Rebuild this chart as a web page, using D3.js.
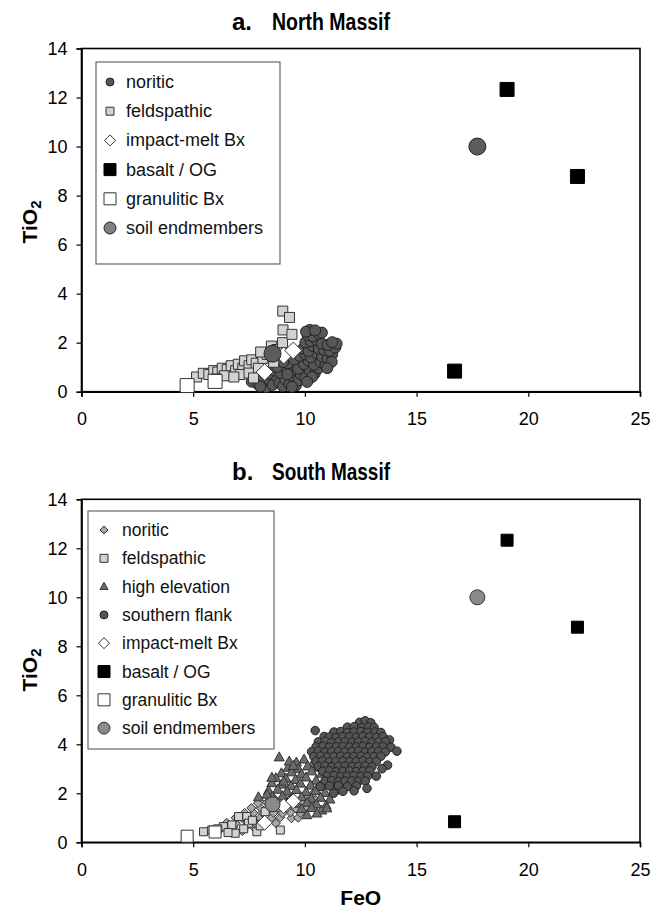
<!DOCTYPE html>
<html><head><meta charset="utf-8">
<script src="https://cdn.jsdelivr.net/npm/d3@7"></script>
<style>
body{margin:0;background:#fff;}
text{font-family:"Liberation Sans",Arial,Helvetica,sans-serif;}
</style></head>
<body><svg id="chart" width="652" height="911"></svg>
<script>
// ---------- DATA (FeO wt%, TiO2 wt%) ----------
const xTicks = [0, 5, 10, 15, 20, 25];
const yTicks = [0, 2, 4, 6, 8, 10, 12, 14];

// shared
const basaltOG = [[19.05,12.33],[22.2,8.78],[16.7,0.84]];
const granuliticBx = [[4.73,0.25],[5.98,0.42]];
const impactMeltBx = [[8.2,0.8],[9.05,1.48],[9.48,1.68]];
const soilEndmembers = [[8.55,1.55],[17.72,10.0]];

// North Massif
const northNoritic = [
 [7.62,0.41],[7.9,0.3],[8.1,0.55],[8.27,0.19],[8.42,0.46],[8.56,0.28],[8.72,0.62],[8.86,0.36],[9.02,0.22],[9.12,0.5],
 [9.31,0.31],[9.46,0.63],[9.6,0.26],[9.72,0.46],[8.36,0.73],[8.62,0.86],[8.9,0.77],[9.16,0.96],[9.36,0.83],[9.55,1.06],
 [9.82,0.71],[10.02,0.57],[10.22,0.86],[10.44,0.74],[10.62,0.96],[9.7,0.94],[9.96,1.12],[10.16,1.26],[10.41,1.1],[10.7,1.21],
 [10.92,1.06],[9.25,1.16],[9.52,1.31],[9.76,1.46],[10.02,1.52],[10.26,1.4],[10.52,1.56],[10.77,1.44],[11.02,1.36],[11.22,1.52],
 [9.92,1.76],[10.16,1.66],[10.36,1.86],[10.62,1.76],[10.86,1.71],[11.12,1.66],[11.36,1.8],[11.42,1.96],[10.02,2.01],[10.26,2.06],
 [10.52,2.11],[10.76,1.96],[11.02,1.91],[11.22,2.02],[10.12,2.31],[10.36,2.26],[10.62,2.36],[10.22,2.52],[10.76,2.41],[10.05,2.45],
 [10.46,2.5],[11.2,1.22],[11.0,0.96],[10.32,0.6],[9.22,0.71],[8.76,1.01],[9.02,1.21],[8.0,0.22],[9.42,0.2],[10.1,0.4]
];
const northFeldspathic = [
 [5.15,0.6],[5.45,0.75],[5.7,0.7],[5.92,0.86],[6.1,0.8],[6.3,0.96],[6.52,0.9],[6.4,0.65],[6.7,1.06],[6.9,0.86],
 [7.02,1.12],[7.22,0.96],[7.3,1.26],[7.5,1.06],[7.62,1.3],[7.82,1.16],[7.1,0.7],[6.82,0.6],[7.5,0.76],[7.92,0.96],
 [8.12,1.36],[8.32,1.52],[8.5,1.86],[8.75,1.72],[9.0,2.0],[9.02,2.52],[9.42,2.34],[9.01,3.29],[9.31,3.03],[8.6,1.2],
 [8.02,1.62],[6.02,0.52],[7.7,0.56]
];

// South Massif
const southNoritic = [
 [6.1,0.45],[6.6,0.44],[7.2,0.46],[6.3,0.6],[6.8,0.61],[7.3,0.58],[7.7,0.62],[6.5,0.8],[6.9,0.78],[7.4,0.82],
 [7.8,0.79],[8.3,0.81],[8.7,0.78],[6.9,1.0],[7.2,0.98],[7.6,1.02],[8.0,1.0],[8.5,0.99],[8.9,1.02],[9.4,0.98],
 [9.7,1.0],[7.3,1.2],[7.7,1.19],[8.1,1.22],[8.6,1.2],[9.0,1.18],[9.35,1.22],[9.8,1.2],[7.6,1.4],[8.0,1.42],
 [8.4,1.38],[8.8,1.41],[9.2,1.4],[9.6,1.38],[10.0,1.42],[7.9,1.6],[8.3,1.62],[8.7,1.58],[9.1,1.6],[9.5,1.62],
 [9.9,1.58],[10.3,1.6],[8.6,1.8],[9.0,1.78],[9.4,1.82],[10.1,1.8],[10.4,1.79],[9.2,2.0],[10.4,2.02]
];
const southFeldspathic = [
 [5.46,0.43],[5.83,0.5],[6.35,0.64],[6.73,0.71],[7.03,1.05],[7.4,1.05],[7.47,0.78],[6.88,0.37],[7.85,0.43],[8.9,0.5],
 [8.0,0.67],[7.26,0.55],[6.56,0.4],[8.22,1.25],[6.1,0.55],[7.65,0.9]
];
const southHighElevation = [
 [8.85,3.47],[9.62,3.26],[9.96,3.38],[10.35,3.2],[9.25,3.05],[9.7,3.0],[10.12,3.1],[10.6,3.05],[11.0,3.15],[8.95,2.82],
 [9.4,2.86],[9.85,2.78],[10.3,2.9],[10.75,2.8],[11.2,2.9],[8.7,2.62],[9.15,2.6],[9.58,2.55],[10.05,2.65],[10.5,2.52],
 [10.95,2.6],[11.4,2.66],[8.52,2.42],[8.95,2.36],[9.38,2.3],[9.8,2.4],[10.25,2.32],[10.7,2.28],[11.15,2.38],[11.6,2.45],
 [8.37,2.11],[8.78,2.15],[9.2,2.08],[9.62,2.14],[10.05,2.05],[10.48,2.1],[10.9,2.02],[11.35,2.12],[7.92,1.84],[8.55,1.85],
 [9.0,1.88],[9.42,1.8],[9.85,1.84],[10.28,1.78],[10.7,1.82],[11.12,1.75],[9.2,1.6],[9.65,1.58],[10.1,1.62],[10.52,1.55],
 [10.95,1.5],[9.85,1.36],[10.3,1.4],[10.75,1.3],[10.09,1.11],[10.54,1.18],[10.98,1.39],[8.52,2.64],[9.3,3.3],[8.3,1.95],
 [9.48,3.12],[10.85,2.48],[11.55,2.2],[9.05,2.48]
];
const southSouthernFlank = [
 [12.45,4.9],[12.7,4.96],[12.95,4.88],[11.9,4.7],[12.2,4.72],[12.55,4.68],[12.85,4.71],[13.1,4.69],
 [10.46,4.56],[11.3,4.5],[11.6,4.52],[11.9,4.48],[12.2,4.5],[12.5,4.52],[12.8,4.49],[13.15,4.5],[13.4,4.48],
 [10.86,4.32],[11.1,4.3],[11.4,4.28],[11.7,4.31],[12.0,4.3],[12.3,4.29],[12.6,4.32],[12.9,4.3],[13.2,4.28],[13.5,4.31],[13.79,4.18],
 [10.6,4.1],[10.9,4.12],[11.2,4.08],[11.5,4.1],[11.8,4.11],[12.1,4.09],[12.4,4.1],[12.7,4.12],[13.0,4.08],[13.3,4.1],[13.6,4.11],
 [10.5,3.9],[10.8,3.92],[11.1,3.88],[11.4,3.9],[11.7,3.91],[12.0,3.89],[12.3,3.9],[12.6,3.92],[12.9,3.88],[13.2,3.9],[13.5,3.91],[13.85,3.88],
 [10.3,3.7],[10.6,3.72],[10.9,3.68],[11.2,3.7],[11.5,3.71],[11.8,3.69],[12.1,3.7],[12.4,3.72],[12.7,3.68],[13.0,3.7],[13.3,3.71],[13.6,3.69],[14.12,3.72],
 [10.4,3.5],[10.7,3.52],[11.0,3.48],[11.3,3.5],[11.6,3.51],[11.9,3.49],[12.2,3.5],[12.5,3.52],[12.8,3.48],[13.1,3.5],[13.4,3.51],
 [10.5,3.3],[10.8,3.32],[11.1,3.28],[11.4,3.3],[11.7,3.31],[12.0,3.29],[12.3,3.3],[12.6,3.32],[12.9,3.28],[13.2,3.3],[13.7,3.15],
 [10.6,3.1],[10.9,3.12],[11.2,3.08],[11.5,3.1],[11.8,3.11],[12.1,3.09],[12.4,3.1],[12.7,3.12],[13.0,3.08],[13.45,3.0],
 [10.8,2.9],[11.1,2.92],[11.4,2.88],[11.7,2.9],[12.0,2.91],[12.3,2.89],[12.6,2.9],[12.9,2.92],[13.2,2.7],
 [11.0,2.7],[11.3,2.72],[11.6,2.68],[11.9,2.7],[12.2,2.71],[12.5,2.69],[12.8,2.7],
 [10.9,2.5],[11.2,2.52],[11.5,2.48],[11.8,2.5],[12.1,2.51],[12.4,2.49],[12.7,2.5],
 [10.69,2.27],[11.1,2.3],[11.5,2.32],[11.9,2.28],[12.3,2.3],[12.78,2.2],[11.28,2.0],[11.7,2.08],[12.2,2.1]
];

// ---------- DRAWING ----------
const svg = d3.select("#chart");
const x = d3.scaleLinear().domain([0,25]).range([81.5,640]);

const styles = {
  norCircle:{shape:"circle",size:11,fill:"#575757",stroke:"#222"},
  feldTop:{shape:"square",size:10,fill:"#d2d2d2",stroke:"#333"},
  impact:{shape:"diamond",size:17,fill:"#fff",stroke:"#333"},
  basalt:{shape:"square",size:14,fill:"#000",stroke:"#000"},
  granTop:{shape:"square",size:14,fill:"#fff",stroke:"#333"},
  soilTop:{shape:"circle",size:17,fill:"#5c5c5c",stroke:"#222"},
  norDiamond:{shape:"diamond",size:9,fill:"#a8a8a8",stroke:"#333"},
  feldBot:{shape:"square",size:8,fill:"#d2d2d2",stroke:"#333"},
  tri:{shape:"triangle",size:10,fill:"#6c6c6c",stroke:"#333"},
  flank:{shape:"circle",size:8.5,fill:"#555",stroke:"#222"},
  impactBot:{shape:"diamond",size:15,fill:"#fff",stroke:"#333"},
  basaltBot:{shape:"square",size:12,fill:"#000",stroke:"#000"},
  granBot:{shape:"square",size:12,fill:"#fff",stroke:"#333"},
  soilBot:{shape:"circle",size:15,fill:"#8a8a8a",stroke:"#333"}
};

function shapePath(st){
  const s = st.size;
  if(st.shape==="circle") return d3.symbol(d3.symbolCircle, Math.PI*(s/2)*(s/2))();
  if(st.shape==="square") return d3.symbol(d3.symbolSquare, s*s)();
  if(st.shape==="diamond"){ const h=s/2; return `M0,${-h}L${h},0L0,${h}L${-h},0Z`; }
  if(st.shape==="triangle"){ const h=s*0.9; return `M0,${-h*0.6}L${s/2},${h*0.4}L${-s/2},${h*0.4}Z`; }
}

function drawPoints(g, data, st, y){
  g.append("g").selectAll("path").data(data).join("path")
    .attr("d", shapePath(st))
    .attr("transform", d=>`translate(${x(d[0])},${y(d[1])})`)
    .attr("fill", st.fill).attr("stroke", st.stroke).attr("stroke-width", 1);
}

function panel(cfg){
  const y = d3.scaleLinear().domain([0,14]).range([cfg.bottom, cfg.top]);
  const g = svg.append("g");
  const tf = '"Liberation Sans Narrow","Arial Narrow","Liberation Sans",Arial,sans-serif';
  g.append("text").attr("x",232).attr("y",cfg.titleY).attr("font-weight","bold").attr("font-size",24)
    .attr("font-family",tf).text(cfg.letter);
  g.append("text").attr("x",272).attr("y",cfg.titleY).attr("font-weight","bold").attr("font-size",24)
    .attr("font-family",tf).attr("textLength",118).attr("lengthAdjust","spacingAndGlyphs").text(cfg.title);
  g.append("rect").attr("x",x(0)).attr("y",y(14)).attr("width",x(25)-x(0)).attr("height",y(0)-y(14))
    .attr("fill","none").attr("stroke","#000").attr("stroke-width",1.6);
  const xa = g.append("g").attr("transform",`translate(0,${y(0)})`)
    .call(d3.axisBottom(x).tickValues(xTicks).tickSize(5).tickPadding(16).tickFormat(d3.format("d")));
  const ya = g.append("g").attr("transform",`translate(${x(0)},0)`)
    .call(d3.axisLeft(y).tickValues(yTicks).tickSize(5).tickPadding(9).tickFormat(d3.format("d")));
  [xa,ya].forEach(a=>{
    a.select(".domain").attr("stroke","#000").attr("stroke-width",1.6);
    a.selectAll(".tick line").attr("stroke","#000").attr("stroke-width",1.2);
    a.selectAll(".tick text").attr("font-size",18).attr("fill","#000")
      .attr("font-family",'"Liberation Sans",Arial,sans-serif');
  });
  const yl = g.append("text").attr("transform",`translate(37,${cfg.ylabY}) rotate(-90)`)
    .attr("text-anchor","middle").attr("font-weight","bold").attr("font-size",21);
  yl.append("tspan").text("TiO");
  yl.append("tspan").attr("font-size",15).attr("dy",4).text("2");
  const pg = g.append("g");
  cfg.series.forEach(s=>drawPoints(pg, s.data, s.style, y));
  const lg = g.append("g");
  lg.append("rect").attr("x",cfg.leg.x).attr("y",cfg.leg.y).attr("width",cfg.leg.w).attr("height",cfg.leg.h)
    .attr("fill","#fff").attr("stroke","#666").attr("stroke-width",1.2);
  cfg.series.forEach((s,i)=>{
    const yy = cfg.leg.first + i*cfg.leg.step;
    const ls = s.legStyle||s.style;
    lg.append("path").attr("d", shapePath(ls))
      .attr("transform",`translate(${cfg.leg.mx},${yy})`)
      .attr("fill",ls.fill).attr("stroke",ls.stroke).attr("stroke-width",1);
    lg.append("text").attr("x",cfg.leg.tx).attr("y",yy+6).attr("font-size",cfg.leg.fs).attr("fill","#111").text(s.name);
  });
  return y;
}

const sm = (st,size,extra)=>Object.assign({},st,{size},extra||{});

panel({
  letter:"a.", title:"North Massif", titleY:30, top:48.5, bottom:391.7, ylabY:222,
  leg:{x:96,y:62,w:184,h:202,first:82,step:29.2,mx:110,tx:126,fs:18},
  series:[
    {name:"noritic", data:northNoritic, style:styles.norCircle, legStyle:sm(styles.norCircle,8)},
    {name:"feldspathic", data:northFeldspathic, style:styles.feldTop, legStyle:sm(styles.feldTop,8)},
    {name:"impact-melt Bx", data:impactMeltBx, style:styles.impact, legStyle:sm(styles.impact,11)},
    {name:"basalt / OG", data:basaltOG, style:styles.basalt, legStyle:sm(styles.basalt,12)},
    {name:"granulitic Bx", data:granuliticBx, style:styles.granTop, legStyle:sm(styles.granTop,12)},
    {name:"soil endmembers", data:soilEndmembers, style:styles.soilTop, legStyle:sm(styles.soilTop,12,{fill:"#808080"})}
  ]
});

panel({
  letter:"b.", title:"South Massif", titleY:480, top:499.3, bottom:842.3, ylabY:670,
  leg:{x:88,y:511,w:186,h:238,first:530,step:28.3,mx:104,tx:122,fs:17.5},
  series:[
    {name:"noritic", data:southNoritic, style:styles.norDiamond, legStyle:sm(styles.norDiamond,8)},
    {name:"feldspathic", data:southFeldspathic, style:styles.feldBot, legStyle:sm(styles.feldBot,8)},
    {name:"high elevation", data:southHighElevation, style:styles.tri, legStyle:sm(styles.tri,8)},
    {name:"southern flank", data:southSouthernFlank, style:styles.flank, legStyle:sm(styles.flank,8)},
    {name:"impact-melt Bx", data:impactMeltBx, style:styles.impactBot, legStyle:sm(styles.impactBot,11)},
    {name:"basalt / OG", data:basaltOG, style:styles.basaltBot, legStyle:sm(styles.basaltBot,12)},
    {name:"granulitic Bx", data:granuliticBx, style:styles.granBot, legStyle:sm(styles.granBot,12)},
    {name:"soil endmembers", data:soilEndmembers, style:styles.soilBot, legStyle:sm(styles.soilBot,12)}
  ]
});

svg.append("text").attr("x",x(12.5)).attr("y",905).attr("text-anchor","middle")
  .attr("font-weight","bold").attr("font-size",21).text("FeO");
</script>
</body></html>
